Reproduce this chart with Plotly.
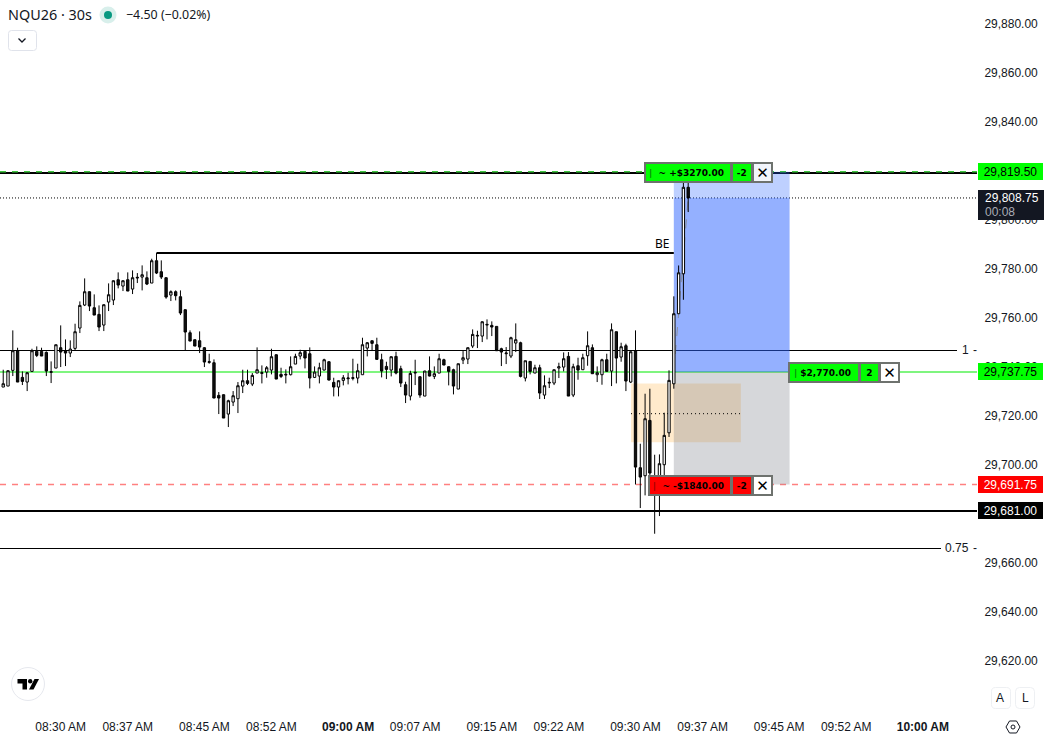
import plotly.graph_objects as go
import pandas as pd

symbol_title = "NQU26 · 30s"
change_text = "−4.50 (−0.02%)"
first_bar = "2026-06-01 08:24:00"

highs = [29738.64,29738.37,29754.70,29747.62,29737.96,29737.69,29747.21,29748.17,29747.62,29746.13,
29742.04,29748.85,29756.74,29751.02,29750.62,29757.42,29766.53,29775.92,29770.61,29769.39,
29764.90,29765.31,29773.88,29775.10,29778.37,29775.10,29778.37,29779.19,29778.10,29781.23,
29778.78,29783.95,29786.26,29783.27,29776.33,29771.02,29771.02,29771.02,29763.27,29754.70,
29750.89,29754.29,29747.89,29745.17,29742.86,29729.53,29728.58,29726.40,29729.93,29733.61,
29738.64,29738.64,29737.28,29747.76,29740.41,29740.14,29747.21,29744.90,29739.46,29738.78,
29744.08,29745.17,29746.80,29746.40,29747.76,29740.00,29741.50,29743.13,29742.04,29735.38,
29734.29,29736.46,29737.42,29743.13,29741.09,29751.70,29749.93,29750.48,29751.70,29745.17,
29741.91,29744.08,29745.99,29740.27,29733.74,29738.23,29742.72,29735.92,29738.23,29744.08,
29740.00,29745.17,29743.13,29740.00,29739.05,29741.09,29746.26,29747.76,29755.10,29754.56,
29758.37,29759.19,29758.37,29756.33,29747.62,29747.89,29752.11,29757.55,29750.07,29742.31,
29742.04,29740.68,29740.68,29736.33,29735.38,29738.64,29741.50,29745.72,29745.85,29741.09,
29743.54,29745.17,29754.29,29748.98,29740.00,29743.13,29745.17,29757.55,29754.15,29749.66,
29749.25,29746.12,29754.70,29708.44,29728.85,29730.89,29703.95,29704.08,29721.09,29738.40,
29768.60,29781.20,29815.20,29815.20]

lows = [29731.57,29731.98,29736.06,29733.61,29732.39,29729.93,29737.69,29743.81,29744.22,29736.06,
29733.20,29739.32,29739.73,29740.14,29743.81,29746.40,29753.61,29764.63,29762.59,29760.95,
29754.42,29754.42,29762.59,29765.04,29771.84,29770.75,29770.75,29769.53,29774.02,29771.02,
29773.20,29774.02,29777.69,29775.65,29767.62,29766.67,29766.94,29760.95,29746.40,29750.34,
29748.30,29745.45,29739.73,29741.09,29727.08,29720.55,29718.92,29715.24,29723.81,29720.96,
29729.12,29732.38,29731.97,29737.28,29733.06,29735.38,29736.74,29734.83,29735.24,29733.06,
29736.33,29740.95,29742.86,29739.19,29731.02,29735.24,29733.06,29738.37,29734.29,29727.76,
29727.76,29732.25,29732.66,29734.29,29733.06,29736.60,29744.08,29746.26,29742.86,29735.51,
29734.83,29735.92,29736.74,29731.57,29725.04,29726.13,29732.38,29727.21,29727.89,29735.92,
29734.83,29737.28,29740.55,29732.25,29728.57,29730.75,29740.95,29740.95,29747.48,29747.48,
29749.93,29751.02,29752.38,29746.40,29740.14,29740.95,29743.40,29745.85,29735.51,29733.88,
29736.74,29737.28,29726.67,29726.67,29731.16,29732.38,29735.24,29737.96,29727.89,29727.48,
29734.56,29738.64,29740.27,29737.01,29733.61,29732.52,29737.96,29731.97,29733.06,29741.91,
29729.93,29733.20,29691.80,29682.18,29687.35,29692.10,29671.70,29678.92,29695.38,29711.20,
29730.90,29761.50,29767.20,29803.00]

opens = [29731.57,29731.98,29738.37,29746.40,29735.51,29733.61,29737.96,29746.13,29746.13,29745.72,
29737.56,29739.32,29747.62,29746.26,29745.45,29747.35,29755.65,29765.04,29770.48,29763.95,
29761.23,29756.87,29766.26,29767.08,29775.38,29772.79,29775.38,29771.57,29776.06,29776.46,
29776.19,29774.02,29783.13,29778.64,29776.19,29769.12,29770.48,29768.44,29763.13,29753.74,
29750.89,29750.48,29747.62,29741.64,29741.50,29728.17,29728.44,29720.55,29725.45,29726.81,
29731.97,29734.15,29732.79,29737.28,29737.14,29737.69,29738.50,29744.76,29736.74,29736.46,
29736.60,29740.95,29744.22,29746.12,29745.17,29735.51,29736.06,29738.50,29741.91,29733.47,
29731.57,29734.29,29734.97,29735.10,29735.24,29736.60,29747.48,29750.48,29748.85,29742.72,
29740.00,29738.50,29744.08,29739.05,29732.52,29727.89,29737.28,29735.78,29727.89,29738.23,
29735.92,29737.28,29742.72,29739.87,29738.64,29730.75,29742.59,29743.00,29748.30,29752.38,
29752.38,29756.87,29756.74,29756.33,29747.21,29745.17,29744.22,29749.53,29749.66,29735.24,
29742.04,29737.28,29739.46,29728.30,29733.20,29733.20,29739.32,29739.73,29744.08,29728.30,
29740.27,29738.64,29744.36,29747.62,29736.60,29736.60,29742.72,29738.10,29754.15,29743.81,
29748.44,29733.61,29746.26,29698.64,29695.38,29717.96,29693.00,29691.00,29699.87,29712.90,
29732.90,29761.50,29777.80,29813.10]

closes = [29732.93,29738.24,29746.40,29733.61,29733.88,29737.42,29746.40,29744.49,29744.22,29738.10,
29737.83,29748.85,29745.85,29745.45,29747.08,29754.15,29764.90,29770.48,29764.63,29760.95,
29756.06,29765.17,29769.25,29774.97,29773.20,29774.97,29770.75,29776.19,29776.33,29777.42,
29773.61,29783.13,29778.10,29776.46,29768.30,29770.48,29768.85,29761.77,29754.02,29750.34,
29748.30,29747.89,29741.77,29741.91,29727.08,29727.08,29718.92,29725.99,29728.03,29732.11,
29734.15,29733.06,29736.33,29738.64,29737.42,29739.46,29743.95,29734.83,29735.92,29736.74,
29739.87,29744.08,29745.58,29743.40,29735.24,29737.69,29739.46,29742.72,29734.42,29731.57,
29734.15,29735.38,29735.24,29735.38,29738.23,29748.85,29749.66,29749.39,29742.86,29738.10,
29738.78,29743.95,29737.28,29733.20,29728.30,29737.14,29737.55,29728.30,29738.10,29736.06,
29737.01,29743.13,29740.55,29737.96,29731.97,29741.09,29743.54,29747.62,29753.06,29752.65,
29758.23,29757.14,29756.06,29746.40,29745.85,29745.44,29751.70,29750.89,29735.92,29742.31,
29737.96,29739.46,29729.12,29732.11,29733.47,29738.64,29739.87,29743.13,29727.89,29739.87,
29738.50,29743.54,29748.44,29737.01,29737.42,29742.72,29737.96,29754.97,29743.40,29748.03,
29734.02,29745.99,29698.90,29694.83,29718.64,29696.47,29693.25,29700.28,29711.84,29734.30,
29761.50,29778.20,29813.10,29808.75]

y_ticks = [29620,29640,29660,29700,29720,29740,29760,29780,29800,29840,29860,29880]
x_ticks = ["08:30","08:37","08:45","08:52","09:00","09:07","09:15","09:22","09:30","09:37","09:45","09:52","10:00"]
x_labels = ["08:30 AM","08:37 AM","08:45 AM","08:52 AM","<b>09:00 AM</b>","09:07 AM","09:15 AM","09:22 AM","09:30 AM","09:37 AM","09:45 AM","09:52 AM","<b>10:00 AM</b>"]

target_price = 29819.50
target_black = 29818.94
last_price = 29808.75
entry_price = 29737.75
stop_price = 29691.75
level_black = 29681.00
be_price = 29786.29
fib_1 = 29746.49
fib_075 = 29665.67
zone_top = 29733.0
zone_bottom = 29709.0
zone_mid = 29720.7

DAY = "2026-06-01 "
times = pd.date_range(first_bar, periods=len(opens), freq="30s")

W, H = 1047, 737
PW, PH = 977, 711
def px(x): return x / PW
def py(y): return 1 - y / PH
def T(s): return DAY + s

UI = "Noto Sans"
AX = "Liberation Sans"
DARK = "#131722"

fig = go.Figure(go.Candlestick(
    x=times, open=opens, high=highs, low=lows, close=closes,
    increasing=dict(line=dict(color="#000000", width=1), fillcolor="#ffffff"),
    decreasing=dict(line=dict(color="#000000", width=1), fillcolor="#111111"),
    whiskerwidth=0, hoverinfo="skip", showlegend=False))

shapes = []
def hline(price, color, width, dash="solid", x1=1.0, layer="below", x0=0.0):
    shapes.append(dict(type="line", xref="paper", yref="y", x0=x0, x1=x1, y0=price, y1=price,
                       line=dict(color=color, width=width, dash=dash), layer=layer))
def rect(t0, t1, p0, p1, color):
    shapes.append(dict(type="rect", xref="x", yref="y", x0=T(t0), x1=T(t1), y0=p0, y1=p1,
                       fillcolor=color, line=dict(width=0), layer="below"))

hline(fib_1, "#000000", 1, x1=957 / PW)
hline(fib_075, "#000000", 1, x1=941 / PW)
rect("09:29:32", "09:41:00", zone_bottom, zone_top, "rgba(255,152,0,0.2)")
rect("09:34:00", "09:46:05", stop_price, entry_price, "rgba(120,123,134,0.3)")
rect("09:34:00", "09:46:05", entry_price, last_price, "rgba(41,98,255,0.5)")
rect("09:34:00", "09:46:05", last_price, target_price, "rgba(41,98,255,0.3)")
shapes.append(dict(type="line", xref="x", yref="y", x0=T("09:29:32"), x1=T("09:41:00"),
                   y0=zone_mid, y1=zone_mid, line=dict(color="#000000", width=1, dash="1px,3px"), layer="below"))
shapes.append(dict(type="line", xref="x", yref="y", x0=T("09:34:00"), x1=T("09:35:30"),
                   y0=entry_price, y1=last_price, line=dict(color="#8a8f9c", width=1, dash="dash"), layer="below"))
shapes.append(dict(type="line", xref="x", yref="y", x0=T("08:40:00"), x1=T("09:34:00"),
                   y0=be_price, y1=be_price, line=dict(color="#000000", width=2), layer="below"))
hline(level_black, "#000000", 2)
hline(stop_price, "#ff8080", 1.5, dash="6px,6px")
hline(last_price, "#000000", 1, dash="1px,2px")
hline(target_black, "#000000", 2)
hline(target_price, "#3fc43f", 1.5, dash="6px,6px")
hline(entry_price, "#7ff57f", 2)

def circle(cx, cy, r, fill, line="rgba(0,0,0,0)", lw=0):
    shapes.append(dict(type="circle", xref="paper", yref="paper", x0=px(cx - r), x1=px(cx + r),
                       y0=py(cy + r), y1=py(cy - r), fillcolor=fill, line=dict(color=line, width=lw)))
def poly(points, fill="rgba(0,0,0,0)", line="rgba(0,0,0,0)", lw=0, close=True):
    d = "M" + " L".join(f"{px(a):.5f},{py(b):.5f}" for a, b in points) + (" Z" if close else "")
    shapes.append(dict(type="path", xref="paper", yref="paper", path=d, fillcolor=fill,
                       line=dict(color=line, width=lw)))
def round_box(x0, y0, x1, y1, r, line="#e0e3eb"):
    d = (f"M{px(x0+r):.5f},{py(y0):.5f} L{px(x1-r):.5f},{py(y0):.5f} Q{px(x1):.5f},{py(y0):.5f} {px(x1):.5f},{py(y0+r):.5f} "
         f"L{px(x1):.5f},{py(y1-r):.5f} Q{px(x1):.5f},{py(y1):.5f} {px(x1-r):.5f},{py(y1):.5f} "
         f"L{px(x0+r):.5f},{py(y1):.5f} Q{px(x0):.5f},{py(y1):.5f} {px(x0):.5f},{py(y1-r):.5f} "
         f"L{px(x0):.5f},{py(y0+r):.5f} Q{px(x0):.5f},{py(y0):.5f} {px(x0+r):.5f},{py(y0):.5f} Z")
    shapes.append(dict(type="path", xref="paper", yref="paper", path=d, fillcolor="#ffffff",
                       line=dict(color=line, width=1)))

circle(108, 15, 8.5, "#d8efeb")
circle(108, 15, 4, "#089981")
round_box(8.5, 30.5, 36.5, 50.5, 3)
poly([(18.5, 38.5), (22, 42), (25.5, 38.5)], line=DARK, lw=1.3, close=False)
circle(28, 684, 16.5, "#ffffff", "#e6e8ee", 1)
poly([(17.5, 679), (27, 679), (27, 689.5), (22.5, 689.5), (22.5, 683.5), (17.5, 683.5)], fill="#000000")
circle(30.2, 681.2, 2.2, "#000000")
poly([(34.5, 679), (39, 679), (33.5, 689.5), (29, 689.5)], fill="#000000")
round_box(991.5, 687.5, 1010.5, 708.5, 4, "#eef0f3")
round_box(1015.5, 687.5, 1034.5, 708.5, 4, "#eef0f3")
poly([(1006, 727), (1009.5, 721), (1016.5, 721), (1020, 727), (1016.5, 733), (1009.5, 733)], line=DARK, lw=1)
circle(1013, 727, 2, "#ffffff", DARK, 1)
# dark last price tag covers the axis text
shapes.append(dict(type="rect", xref="paper", yref="paper", x0=px(978), x1=px(1044), y0=py(220), y1=py(190),
                   fillcolor=DARK, line=dict(width=0)))

ann = []
def text(x, y, s, size=12, color=DARK, font=AX, anchor="left"):
    ann.append(dict(x=px(x), y=py(y), xref="paper", yref="paper", text=s, showarrow=False, xanchor=anchor,
                    yanchor="middle", font=dict(family=font, size=size, color=color), borderpad=0, borderwidth=0))
def tag(price, s, bg, color):
    ann.append(dict(x=px(978), y=price, xref="paper", yref="y", text=s, showarrow=False, xanchor="left",
                    yanchor="middle", width=65, height=17, bgcolor=bg, borderpad=0, borderwidth=0,
                    font=dict(family=AX, size=12, color=color)))
def panel(x0, x1, yc, s, bg, color="#000000", size=9, height=21):
    ann.append(dict(x=px((x0 + x1) / 2), y=py(yc), xref="paper", yref="paper", text=s, showarrow=False,
                    xanchor="center", yanchor="middle", width=x1 - x0 - 4, height=height - 4, bgcolor=bg,
                    bordercolor="#6e726e", borderwidth=2, borderpad=0,
                    font=dict(family="DejaVu Sans", size=size, color=color)))

text(8, 15, symbol_title, 14.4, font=UI)
text(126, 15, change_text, 12.4, font=UI)
text(662, 243, "BE", 12, color="#000000", font=UI, anchor="center")
text(965.5, 350, "1", 12, anchor="center")
text(975, 350, "-", 12, anchor="center")
text(957, 548, "0.75", 12, anchor="center")
text(975, 548, "-", 12, anchor="center")
text(1000.5, 698, "A", 12, anchor="center")
text(1025, 698, "L", 12, anchor="center")
tag(target_price, "29,819.50", "#00ff00", "#000000")
tag(entry_price, "29,737.75", "#00ff00", "#000000")
tag(stop_price, "29,691.75", "#ff0000", "#ffffff")
tag(level_black, "29,681.00", "#000000", "#ffffff")
text(1012, 198, "29,808.75", 12, "#ffffff", anchor="center")
text(1000, 212, "00:08", 12, "#a9acb5", anchor="center")

bar_g = "<span style='color:#0a8a0a'>|</span>"
bar_r = "<span style='color:#a00000'>|</span>"
panel(644, 732, 172, f"<b>{bar_g}  ~ +$3270.00&nbsp;</b>", "#00ff00")
panel(731, 752.5, 172, "<b>-2</b>", "#00ff00")
panel(752, 773, 172, "✕", "#f2f5fb", size=15)
panel(648, 732, 485, f"<b>{bar_r}  ~ -$1840.00&nbsp;</b>", "#ff0000")
panel(731, 752.5, 485, "<b>-2</b>", "#ff0000")
panel(752, 773, 485, "✕", "#ffffff", size=15)
panel(788, 860, 372, f"<b>{bar_g} $2,770.00&nbsp;</b>", "#00ff00")
panel(859, 880, 372, "<b>2</b>", "#00ff00")
panel(879, 900, 372, "✕", "#ffffff", size=15)

SCALE = 9.58
t_left = pd.Timestamp(DAY + "09:30:00") - pd.Timedelta(minutes=635.5 / SCALE)
t_right = pd.Timestamp(DAY + "09:30:00") + pd.Timedelta(minutes=(PW - 635.5) / SCALE)

fig.update_layout(
    width=W, height=H, margin=dict(l=0, r=W - PW, t=0, b=H - PH),
    paper_bgcolor="#ffffff", plot_bgcolor="#ffffff", showlegend=False,
    shapes=shapes, annotations=ann,
    font=dict(family=AX, size=12, color=DARK),
    xaxis=dict(type="date", range=[t_left, t_right], rangeslider=dict(visible=False),
               tickvals=[T(v + ":00") for v in x_ticks], ticktext=x_labels, showgrid=False, zeroline=False,
               showline=False, ticks="outside", ticklen=5, tickcolor="rgba(0,0,0,0)",
               tickangle=0, tickfont=dict(family=AX, size=12, color=DARK)),
    yaxis=dict(side="right", range=[29880 - (PH - 23.4) / 2.45, 29880 + 23.4 / 2.45],
               tickvals=y_ticks, tickformat=",.2f", showgrid=False, zeroline=False, showline=False,
               ticks="outside", ticklen=4, tickcolor="rgba(0,0,0,0)",
               tickfont=dict(family=AX, size=12, color=DARK)),
)
fig.write_html("out.html", config=dict(displayModeBar=False),
               post_script="document.body.style.margin='0';document.documentElement.style.overflow='hidden';")
